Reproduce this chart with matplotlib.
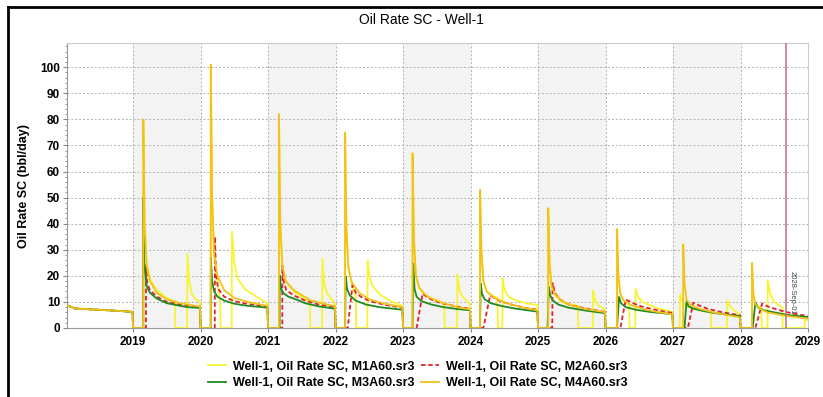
import matplotlib
matplotlib.use("Agg")
import matplotlib.pyplot as plt
from matplotlib.lines import Line2D

plt.rcParams["font.family"] = ["Liberation Sans", "DejaVu Sans"]

# shared history 2018
hist_t = [2018.02, 2018.06, 2018.13, 2018.4, 2018.7, 2018.99, 2019.0]
hist_v = [8.7, 8.3, 7.5, 7.1, 6.7, 6.2, 0]

# M1A60 (light yellow)
m1_t = [2019.15, 2019.151, 2019.17, 2019.2, 2019.25, 2019.35, 2019.5, 2019.62, 2019.625, 2019.80, 2019.805, 2019.83, 2019.87, 2019.93, 2019.99, 2020.0,
        2020.15, 2020.151, 2020.17, 2020.2, 2020.25, 2020.29, 2020.295, 2020.46, 2020.465, 2020.5, 2020.55, 2020.65, 2020.8, 2020.92, 2020.99, 2021.0,
        2021.16, 2021.161, 2021.18, 2021.21, 2021.26, 2021.38, 2021.55, 2021.62, 2021.625, 2021.80, 2021.805, 2021.83, 2021.88, 2021.94, 2021.99, 2022.0,
        2022.14, 2022.141, 2022.16, 2022.19, 2022.24, 2022.30, 2022.305, 2022.47, 2022.475, 2022.5, 2022.55, 2022.65, 2022.8, 2022.99, 2023.0,
        2023.14, 2023.141, 2023.16, 2023.19, 2023.24, 2023.35, 2023.5, 2023.61, 2023.615, 2023.80, 2023.805, 2023.83, 2023.88, 2023.94, 2023.99, 2024.0,
        2024.14, 2024.141, 2024.16, 2024.19, 2024.24, 2024.32, 2024.40, 2024.405, 2024.47, 2024.475, 2024.5, 2024.56, 2024.68, 2024.82, 2024.99, 2025.0,
        2025.15, 2025.151, 2025.17, 2025.2, 2025.25, 2025.35, 2025.5, 2025.59, 2025.595, 2025.81, 2025.815, 2025.84, 2025.9, 2025.99, 2026.0,
        2026.17, 2026.171, 2026.19, 2026.22, 2026.27, 2026.35, 2026.355, 2026.44, 2026.445, 2026.48, 2026.55, 2026.66, 2026.8, 2026.99, 2027.0,
        2027.10, 2027.105, 2027.14, 2027.2, 2027.3, 2027.45, 2027.56, 2027.565, 2027.80, 2027.805, 2027.84, 2027.9, 2027.99, 2028.0,
        2028.17, 2028.171, 2028.19, 2028.22, 2028.27, 2028.31, 2028.315, 2028.40, 2028.405, 2028.44, 2028.5, 2028.6, 2028.62, 2028.625, 2028.95, 2028.955, 2029.0]
m1_v = [0, 79, 42, 25, 19, 14.5, 11.5, 10, 0, 0, 28.5, 18, 13, 11, 10, 0,
        0, 100, 52, 28, 18, 10, 0, 0, 37, 25, 19, 15, 12.5, 10.5, 9.5, 0,
        0, 81, 40, 24, 18, 14, 11, 10, 0, 0, 26.6, 17, 13, 11, 9.5, 0,
        0, 74, 38, 23, 17, 12, 0, 0, 26, 20, 16, 13, 10.5, 8.5, 0,
        0, 66, 34, 20, 15, 12, 10.5, 9.5, 0, 0, 20.5, 15, 12, 10.5, 9.3, 0,
        0, 52, 30, 18, 14, 12.5, 11.5, 0, 0, 19, 15, 12, 10.5, 9.5, 8.8, 0,
        0, 45, 25, 16, 12.5, 10, 9, 8.5, 0, 0, 14.5, 11, 8.5, 7.2, 0,
        0, 37, 20, 13, 10.5, 9, 0, 0, 15, 12, 10, 8.7, 7.3, 6.2, 0,
        0, 13, 10, 8.3, 7.3, 6.6, 6.2, 0, 0, 10.6, 8.5, 6.8, 5.3, 0,
        0, 24, 13, 9.5, 8.2, 7.6, 0, 0, 18.3, 13, 10, 8.2, 8, 0, 0, 3, 3]

# M2A60 (red dashed)
m2_t = [2019.19, 2019.191, 2019.21, 2019.25, 2019.35, 2019.5, 2019.7, 2019.99, 2020.0,
        2020.21, 2020.211, 2020.23, 2020.26, 2020.35, 2020.5, 2020.7, 2020.99, 2021.0,
        2021.21, 2021.211, 2021.23, 2021.27, 2021.38, 2021.55, 2021.75, 2021.99, 2022.0,
        2022.18, 2022.25, 2022.3, 2022.4, 2022.55, 2022.75, 2022.99, 2023.0,
        2023.20, 2023.29, 2023.35, 2023.45, 2023.6, 2023.8, 2023.99, 2024.0,
        2024.19, 2024.29, 2024.35, 2024.45, 2024.6, 2024.8, 2024.99, 2025.0,
        2025.21, 2025.215, 2025.25, 2025.32, 2025.45, 2025.65, 2025.85, 2025.99, 2026.0,
        2026.22, 2026.3, 2026.38, 2026.5, 2026.7, 2026.85, 2026.99, 2027.0,
        2027.22, 2027.3, 2027.38, 2027.5, 2027.7, 2027.85, 2027.99, 2028.0,
        2028.22, 2028.32, 2028.4, 2028.55, 2028.7, 2028.85, 2029.0]
m2_v = [0, 24.4, 17, 14.5, 12, 10, 9, 8.2, 0,
        0, 35, 20, 15, 12, 10.3, 9.2, 8.3, 0,
        0, 24, 18, 14.5, 12.5, 10.5, 9, 8, 0,
        0, 16.4, 13.5, 11.5, 10, 8.8, 7.8, 0,
        0, 13.2, 12, 10.5, 9.3, 8.2, 7.4, 0,
        0, 12.5, 11.5, 10.2, 9, 7.8, 7, 0,
        0, 17.2, 13.5, 11, 9, 7.8, 6.8, 6.2, 0,
        0, 11, 9.8, 8.5, 7.2, 6.4, 5.8, 0,
        0, 9.7, 8.7, 7.5, 6.2, 5.5, 4.9, 0,
        0, 9.4, 8.3, 7, 6, 5.2, 4.6]

# M3A60 (green)
m3_t = [2019.15, 2019.151, 2019.165, 2019.2, 2019.25, 2019.35, 2019.5, 2019.6, 2019.8, 2019.99, 2020.0,
        2020.15, 2020.151, 2020.17, 2020.2, 2020.25, 2020.35, 2020.5, 2020.7, 2020.99, 2021.0,
        2021.17, 2021.171, 2021.19, 2021.22, 2021.3, 2021.38, 2021.55, 2021.75, 2021.99, 2022.0,
        2022.14, 2022.15, 2022.17, 2022.21, 2022.3, 2022.45, 2022.65, 2022.99, 2023.0,
        2023.14, 2023.15, 2023.17, 2023.2, 2023.27, 2023.42, 2023.6, 2023.8, 2023.99, 2024.0,
        2024.14, 2024.15, 2024.17, 2024.21, 2024.3, 2024.45, 2024.65, 2024.99, 2025.0,
        2025.14, 2025.16, 2025.18, 2025.22, 2025.3, 2025.45, 2025.7, 2025.99, 2026.0,
        2026.17, 2026.2, 2026.23, 2026.3, 2026.45, 2026.65, 2026.99, 2027.0,
        2027.17, 2027.2, 2027.23, 2027.3, 2027.45, 2027.65, 2027.99, 2028.0,
        2028.18, 2028.22, 2028.26, 2028.35, 2028.5, 2028.7, 2029.0]
m3_v = [0, 50, 25, 16, 13.5, 11.3, 9.5, 9, 8, 7.7, 0,
        0, 27, 18, 14, 12, 10.5, 9.3, 8.5, 7.8, 0,
        0, 20.2, 15.5, 13.5, 12, 11.3, 9.5, 8.3, 7.4, 0,
        0, 19.8, 15, 12.5, 10.5, 9, 8, 7, 0,
        0, 24.7, 15, 12, 10.3, 9, 8, 7.3, 6.8, 0,
        0, 17, 13, 11, 9.5, 8.5, 7.5, 6.3, 0,
        0, 15.7, 12.5, 10.5, 9, 7.8, 6.7, 5.7, 0,
        0, 11.9, 9.5, 8, 7, 6.2, 5.3, 0,
        0, 10.2, 8.3, 7.5, 6.5, 5.6, 4.6, 0,
        0, 9.7, 7.8, 6.8, 6, 5, 4.2]

# M4A60 (gold)
m4_t = [2019.15, 2019.151, 2019.17, 2019.2, 2019.25, 2019.35, 2019.5, 2019.7, 2019.99, 2020.0,
        2020.15, 2020.151, 2020.17, 2020.2, 2020.25, 2020.35, 2020.5, 2020.7, 2020.99, 2021.0,
        2021.16, 2021.161, 2021.18, 2021.21, 2021.26, 2021.38, 2021.63, 2021.92, 2021.99, 2022.0,
        2022.14, 2022.141, 2022.16, 2022.19, 2022.24, 2022.35, 2022.5, 2022.7, 2022.99, 2023.0,
        2023.14, 2023.141, 2023.16, 2023.19, 2023.24, 2023.32, 2023.42, 2023.6, 2023.8, 2023.99, 2024.0,
        2024.14, 2024.141, 2024.16, 2024.19, 2024.24, 2024.35, 2024.55, 2024.75, 2024.99, 2025.0,
        2025.15, 2025.151, 2025.17, 2025.2, 2025.25, 2025.35, 2025.45, 2025.7, 2025.99, 2026.0,
        2026.17, 2026.171, 2026.19, 2026.22, 2026.27, 2026.4, 2026.6, 2026.8, 2026.99, 2027.0,
        2027.15, 2027.151, 2027.17, 2027.2, 2027.25, 2027.4, 2027.6, 2027.8, 2027.99, 2028.0,
        2028.17, 2028.171, 2028.19, 2028.22, 2028.28, 2028.4, 2028.6, 2028.8, 2029.0]
m4_v = [0, 80, 40, 24, 18, 13.5, 11, 9.5, 8.2, 0,
        0, 101, 50, 28, 20, 14.5, 11.5, 10, 8.5, 0,
        0, 82, 40, 24, 18, 14.5, 10.6, 8.7, 8.5, 0,
        0, 75, 38, 23, 17.5, 13.5, 11, 9.5, 8, 0,
        0, 67, 35, 20, 15.5, 13, 11.3, 9.5, 8, 7.2, 0,
        0, 53, 30, 18, 14, 11.5, 9.4, 8, 6.8, 0,
        0, 46, 25, 16, 13, 10.5, 9, 7.3, 6.1, 0,
        0, 38, 20, 13, 10.5, 8.5, 7, 6, 5.3, 0,
        0, 32, 17, 11, 9, 7.3, 6, 5, 4.1, 0,
        0, 25, 13, 9, 7.5, 6, 5, 4.2, 3.6]

years = list(range(2019, 2030))
shaded_years = [2019, 2021, 2023, 2025, 2027]
y_ticks = list(range(0, 101, 10))
marker_date = 2028.67
marker_label = "2028-Sep-01"

labels = ["Well-1, Oil Rate SC, M1A60.sr3", "Well-1, Oil Rate SC, M2A60.sr3",
          "Well-1, Oil Rate SC, M3A60.sr3", "Well-1, Oil Rate SC, M4A60.sr3"]
c_m1 = "#f8f430"
c_m2 = "#e3202a"
c_m3 = "#1f8a1f"
c_m4 = "#f2c21a"

fig = plt.figure(figsize=(8.23, 3.97), dpi=100)
ax = fig.add_axes([67 / 823, 1 - 328 / 397, 741 / 823, 285 / 397])

for y in shaded_years:
    ax.axvspan(y, y + 1, color="#f3f3f3", zorder=0, lw=0)

lw = 1.3
l1, = ax.plot(hist_t + m1_t, hist_v + m1_v, color=c_m1, lw=lw, label=labels[0], zorder=3)
l2, = ax.plot(hist_t + m2_t, hist_v + m2_v, color=c_m2, lw=lw, ls=(0, (2.5, 1.5)), label=labels[1], zorder=4)
l3, = ax.plot(hist_t + m3_t, hist_v + m3_v, color=c_m3, lw=lw, label=labels[2], zorder=4)
l4, = ax.plot(hist_t + m4_t, hist_v + m4_v, color=c_m4, lw=lw, label=labels[3], zorder=5)

ax.axvline(marker_date, color="#c8687c", lw=1.1, zorder=6)
ax.text(marker_date + 0.1, 5, marker_label, rotation=270, fontsize=5.5,
        color="#444444", ha="center", va="bottom", zorder=7)

ax.set_xlim(2018.02, 2029.0)
ax.set_ylim(0, 109.3)
ax.set_xticks(years)
ax.set_xticklabels([str(y) for y in years], fontweight="bold", fontsize=8.5)
ax.set_yticks(y_ticks)
ax.set_yticklabels([str(v) for v in y_ticks], fontweight="bold", fontsize=8.5)
ax.set_yticks(range(0, 109, 2), minor=True)
ax.tick_params(axis="y", which="major", length=3, color="#888888", pad=2)
ax.tick_params(axis="y", which="minor", length=1.5, color="#888888")
ax.tick_params(axis="x", length=3, color="#888888", pad=3)
ax.grid(True, which="major", color="#b0b0b0", ls=(0, (2, 2)), lw=0.7, zorder=1)
ax.set_axisbelow(True)
ax.set_ylabel("Oil Rate SC (bbl/day)", fontweight="bold", fontsize=9, labelpad=7)
for side in ["left", "bottom"]:
    ax.spines[side].set_color("#999999")
for side in ["top", "right"]:
    ax.spines[side].set_color("#cccccc")

fig.text(421 / 823, 1 - 20 / 397, "Oil Rate SC - Well-1", ha="center", va="center", fontsize=10)

# matplotlib fills legend columns first, so order as M1, M3 | M2, M4
fig.legend([l1, l3, l2, l4], [labels[0], labels[2], labels[1], labels[3]],
           loc="center", bbox_to_anchor=(418 / 823, 1 - 375 / 397), ncol=2, frameon=False,
           prop={"weight": "bold", "size": 9}, handlelength=1.4, columnspacing=0.5,
           handletextpad=0.6, labelspacing=0.35)

# outer black frame (top and left edges visible)
fig.add_artist(Line2D([8 / 823, 1.0], [1 - 7 / 397, 1 - 7 / 397], color="black", lw=2, transform=fig.transFigure))
fig.add_artist(Line2D([8 / 823, 8 / 823], [0, 1 - 7 / 397], color="black", lw=2, transform=fig.transFigure))

fig.savefig("out.png", dpi=100)
